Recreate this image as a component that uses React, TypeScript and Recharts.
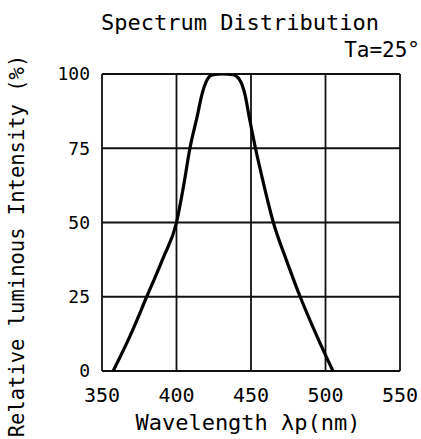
import React from 'react';
import { LineChart, Line, XAxis, YAxis, CartesianGrid } from 'recharts';

const wavelengths = [357.5, 369, 380, 391, 400, 405, 409, 414, 417, 420, 424, 431, 438, 443, 446, 449, 453, 458, 465, 474, 483, 494, 505];
const intensity = [0, 12, 25, 38, 50, 63, 75, 86, 93, 97.5, 99.7, 100, 99.8, 97.5, 93, 85, 75, 64, 50, 37, 25, 12, 0];
const xTicks = [350, 400, 450, 500, 550];
const yTicks = [0, 25, 50, 75, 100];

const data = wavelengths.map((w, i) => ({ w, v: intensity[i] }));

const FONT = '"DejaVu Sans Mono", monospace';

export default function App() {
  return (
    <div style={{ position: 'absolute', left: 0, top: 0, width: 421, height: 439, background: '#fff' }}>
      <LineChart width={421} height={439} data={data} margin={{ top: 74, right: 21, bottom: 28, left: 52 }}>
        <CartesianGrid stroke="#111" strokeWidth={1.8} />
        <XAxis
          dataKey="w"
          type="number"
          domain={[350, 550]}
          ticks={xTicks}
          axisLine={false}
          tickLine={false}
          height={40}
          tickMargin={11}
          tick={{ fill: '#000', fontSize: 20, fontFamily: FONT }}
          interval={0}
        />
        <YAxis
          type="number"
          domain={[0, 100]}
          ticks={yTicks}
          axisLine={false}
          tickLine={false}
          width={50}
          tickMargin={6}
          allowDataOverflow
          tick={{ fill: '#000', fontSize: 18, fontFamily: FONT }}
          interval={0}
        />
        <Line dataKey="v" type="monotone" stroke="#000" strokeWidth={3.2} dot={false} isAnimationActive={false} />
      </LineChart>
      <svg width={421} height={439} style={{ position: 'absolute', left: 0, top: 0, pointerEvents: 'none' }}>
        <text x={240} y={30} textAnchor="middle" fontFamily={FONT} fontSize={22} fill="#000">Spectrum Distribution</text>
        <text x={420} y={57} textAnchor="end" fontFamily={FONT} fontSize={21} fill="#000">Ta=25°</text>
        <text x={248} y={430} textAnchor="middle" fontFamily={FONT} fontSize={22} fill="#000">Wavelength λp(nm)</text>
        <text x={24} y={246} textAnchor="middle" fontFamily={FONT} fontSize={20.5} fill="#000" transform="rotate(-90 24 246)">Relative luminous Intensity (%)</text>
      </svg>
    </div>
  );
}
